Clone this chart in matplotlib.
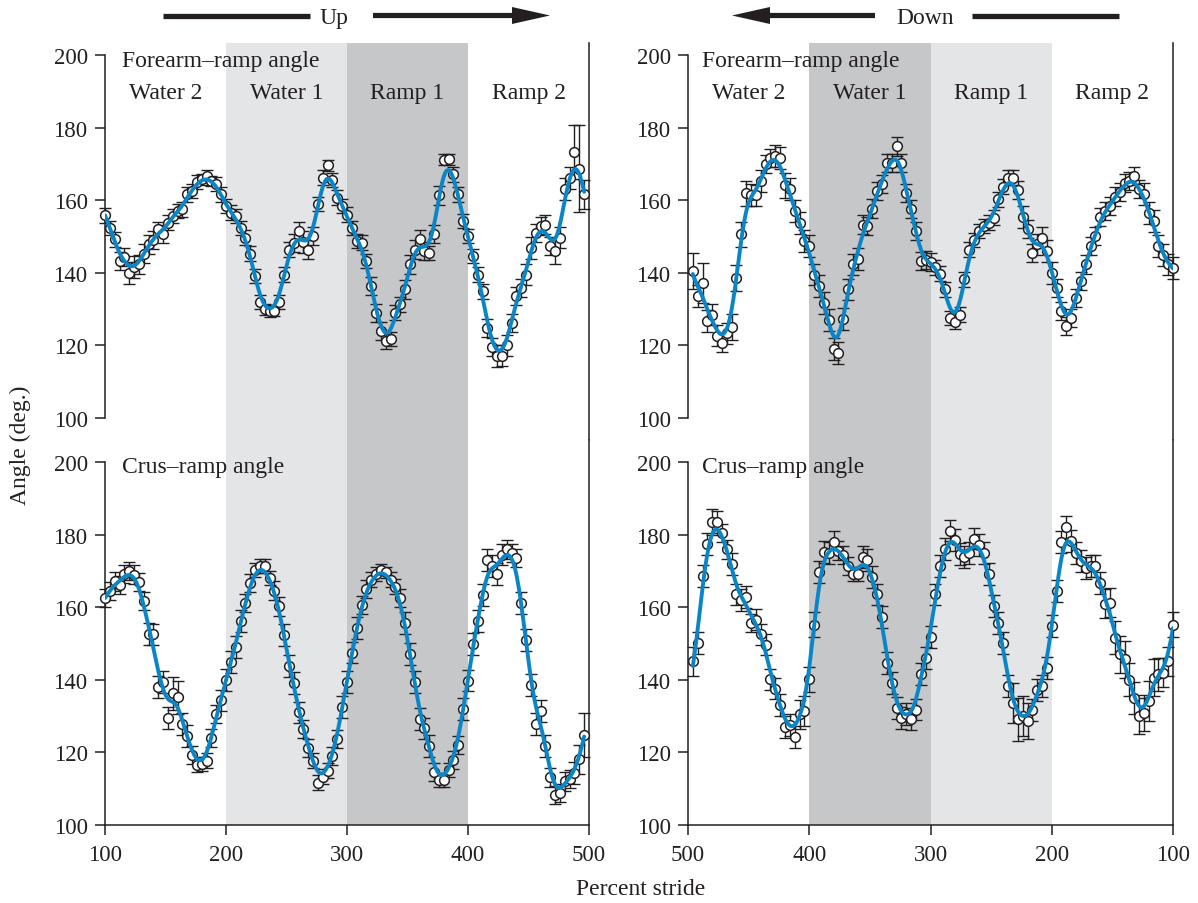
import numpy as np
import matplotlib
matplotlib.use("Agg")
import matplotlib.pyplot as plt
from matplotlib.patches import FancyArrow
from matplotlib.lines import Line2D

plt.rcParams['font.family'] = ['Liberation Serif', 'DejaVu Serif']

INK = '#231f20'
BLUE = '#0a86c8'
LIGHT = '#e4e5e7'
DARK = '#c6c7c9'

# ---------------- data ----------------
x_left = np.arange(100, 500, 4)          # Up: 100 -> 496
x_right = np.arange(496, 99, -4)         # Down: plotted left->right on reversed axis

forearm_up = [155.8, 152.4, 149.2, 143.2, 144.3, 140.0, 141.5, 142.3, 145.3, 147.8,
              149.0, 152.0, 150.6, 153.8, 155.6, 157.0, 157.5, 161.6, 162.5, 165.0,
              165.7, 166.7, 165.3, 164.4, 161.6, 158.4, 156.6, 155.6, 152.4, 149.7,
              145.3, 139.1, 131.9, 129.9, 129.4, 129.6, 131.9, 139.5, 146.4, 148.3,
              151.5, 148.5, 146.4, 150.1, 158.9, 166.2, 169.6, 165.6, 160.7, 158.4,
              156.0, 152.4, 148.7, 148.3, 143.2, 136.3, 129.0, 123.9, 121.1, 121.8,
              129.0, 131.3, 135.4, 142.3, 146.4, 149.4, 146.0, 145.5, 150.6, 161.3,
              171.1, 171.3, 167.1, 161.6, 154.3, 150.1, 144.6, 139.5, 134.9, 124.8,
              119.6, 117.0, 117.2, 120.0, 126.2, 133.6, 135.9, 139.5, 146.9, 151.0,
              152.9, 153.3, 147.4, 146.0, 149.7, 163.0, 166.2, 173.3, 168.7, 161.6]
forearm_up_err = [2, 2, 2, 2.5, 2.5, 3, 3, 2.5, 2.5, 2.5,
                  2.5, 2, 2.5, 2, 2, 2, 2, 2, 2, 2,
                  1.5, 1.5, 1.5, 2, 2, 2, 2, 2, 2, 2,
                  2, 2, 2, 1.5, 1.5, 1.5, 2, 2, 2, 2.5,
                  2.5, 3, 2.5, 2.5, 2, 2, 1.5, 2, 2, 2,
                  2, 2, 2, 2, 2, 2.5, 2.5, 2.5, 2, 2,
                  2, 2, 2.5, 2.5, 2.5, 2.5, 2.5, 2, 2.5, 2.5,
                  1.5, 1.5, 2, 2, 2, 2, 2, 2, 2, 2.5,
                  2.5, 3, 3, 3, 2.5, 2.5, 2.5, 3, 3, 2.5,
                  2.5, 2.5, 2.5, 3.5, 3, 3, 3, 7.5, 12, 4]

crus_up = [162.5, 164.4, 167.1, 166.2, 169.2, 169.9, 169.0, 166.9, 161.6, 152.7,
           152.5, 138.0, 139.3, 129.4, 136.3, 135.2, 127.9, 124.6, 119.3, 116.6,
           116.8, 117.7, 123.9, 130.6, 134.3, 140.0, 144.9, 149.0, 156.1, 161.1,
           166.7, 170.2, 171.3, 171.3, 168.0, 164.6, 160.2, 152.4, 143.7, 139.1,
           131.0, 126.4, 121.2, 117.7, 111.7, 113.3, 115.0, 118.9, 123.6, 132.5,
           139.5, 147.5, 154.3, 160.7, 165.0, 167.6, 169.2, 170.3, 169.6, 167.6,
           165.7, 162.5, 155.6, 147.2, 139.5, 129.1, 126.6, 121.8, 114.7, 112.4,
           112.4, 115.2, 117.9, 122.1, 131.9, 139.8, 149.9, 156.1, 163.4, 172.9,
           171.4, 169.2, 174.5, 175.9, 174.9, 173.6, 161.1, 151.0, 138.6, 127.9,
           131.5, 121.8, 113.1, 108.3, 108.7, 112.0, 112.6, 114.3, 118.1, 124.8]
crus_up_err = [2.5, 2.5, 2.5, 2.5, 2.5, 2.5, 2.5, 2.5, 2.5, 3,
               3, 3, 3, 3, 4.5, 4.5, 3, 3, 2.5, 2,
               2, 2, 2.5, 2.5, 3, 3, 3, 3, 3, 2.5,
               2.5, 2, 2, 2, 2, 2.5, 2.5, 3, 3, 3,
               3, 2.5, 2.5, 2, 2, 2, 2, 2.5, 2.5, 3,
               3, 3, 3, 2.5, 2.5, 2, 2, 1.5, 1.5, 2,
               2, 2.5, 3, 3, 3, 3, 3, 3, 2.5, 2,
               2, 2, 2.5, 2.5, 3, 3, 3, 3, 3, 3,
               3, 3, 3, 2.5, 2.5, 2.5, 3, 3, 3, 3,
               3, 3, 2.5, 2.5, 2.5, 2.5, 2.5, 3, 4, 6]

forearm_down = [140.5, 133.6, 137.2, 126.7, 128.5, 122.7, 120.7, 123.3, 125.1, 138.6,
                150.6, 161.9, 161.5, 161.3, 165.3, 169.9, 171.7, 172.2, 171.7, 164.1,
                163.0, 157.0, 153.8, 148.7, 147.4, 139.5, 136.3, 131.7, 126.9, 119.0,
                117.9, 127.3, 135.4, 142.3, 143.9, 153.3, 152.9, 157.7, 162.5, 164.4,
                170.2, 170.3, 174.8, 170.3, 161.9, 157.5, 151.5, 143.2, 143.5, 143.0,
                141.5, 139.8, 135.4, 127.6, 126.4, 128.5, 138.2, 146.4, 149.0, 151.5,
                152.9, 153.8, 155.2, 160.2, 163.7, 166.2, 166.2, 162.8, 155.4, 152.0,
                145.5, 147.8, 149.7, 146.0, 140.0, 135.9, 129.4, 125.3, 127.6, 133.1,
                137.7, 142.3, 147.4, 150.1, 155.4, 157.0, 158.4, 161.0, 162.3, 164.8,
                165.3, 166.7, 163.0, 161.6, 156.4, 154.3, 147.4, 144.8, 142.3, 141.4]
forearm_down_err = [5, 3, 5.5, 3, 3, 3, 2.5, 3, 3.5, 3.5,
                    3.5, 3.5, 3, 3, 3, 2.5, 2.5, 3, 3, 3.5,
                    3, 3, 3, 3, 3, 3, 3, 3, 3, 3,
                    3, 3, 3, 3, 3, 2.5, 2.5, 2.5, 2.5, 2.5,
                    2.5, 2.5, 2.5, 2.5, 2.5, 2.5, 2.5, 2.5, 2.5, 2.5,
                    2, 2, 2, 2, 2, 2, 2, 2, 2, 2,
                    2, 2, 2, 2, 2, 2, 2, 2.5, 3, 2.5,
                    2.5, 3, 3, 3, 3, 2.5, 2.5, 2.5, 2.5, 2.5,
                    2.5, 2.5, 2.5, 2.5, 2.5, 2.5, 2.5, 2.5, 2.5, 2.5,
                    2.5, 2.5, 2.5, 3, 3, 3, 3, 3, 3, 3]

crus_down = [145.1, 150.2, 168.5, 177.4, 183.5, 183.5, 180.5, 175.9, 171.9, 163.5,
             162.0, 162.8, 155.7, 156.6, 152.5, 149.7, 140.1, 137.6, 133.0, 127.0,
             127.5, 124.2, 130.5, 131.4, 140.1, 155.2, 169.7, 175.2, 174.9, 178.0,
             175.6, 174.3, 171.3, 169.2, 169.2, 173.8, 173.1, 168.3, 163.5, 157.2,
             144.7, 139.2, 132.3, 129.5, 130.6, 129.1, 131.8, 141.5, 146.1, 151.7,
             163.5, 171.3, 176.1, 181.1, 178.6, 174.7, 173.8, 175.0, 178.9, 177.2,
             175.0, 169.2, 160.3, 155.7, 150.2, 138.3, 133.7, 129.1, 130.0, 128.6,
             131.6, 137.1, 138.3, 143.3, 154.8, 164.4, 178.0, 182.0, 178.2, 175.0,
             172.8, 170.8, 171.3, 171.3, 166.7, 160.9, 161.2, 151.6, 147.0, 145.6,
             140.0, 135.0, 130.0, 130.9, 134.1, 140.6, 141.5, 141.9, 145.1, 155.2]
crus_down_err = [4, 3, 3, 3, 3.5, 3, 2.5, 2.5, 3, 3,
                 3, 3, 2.5, 3, 3, 3, 3, 3, 3, 3,
                 3, 3, 4, 4, 3.5, 3.5, 3, 3, 3, 3,
                 2.5, 2.5, 2.5, 2, 2, 3, 3, 3, 3, 3,
                 3, 3, 3, 3, 3, 3, 3, 3, 3, 3,
                 3, 3, 3, 3, 3, 3, 3, 3, 3, 3,
                 3, 3, 3, 3, 3, 3, 5.5, 6, 5.5, 5,
                 3, 3, 3, 3, 3, 3, 3, 3, 3, 3,
                 3, 3, 3, 3, 3, 4, 4, 4.5, 5, 5,
                 4.5, 4.5, 5, 5, 5.5, 5, 4.5, 4, 4, 3.5]

regions_up = [(200, 300, LIGHT), (300, 400, DARK)]
regions_down = [(400, 300, DARK), (300, 200, LIGHT)]
labels_up = [(150, 'Water 2'), (250, 'Water 1'), (350, 'Ramp 1'), (450, 'Ramp 2')]
labels_down = [(450, 'Water 2'), (350, 'Water 1'), (250, 'Ramp 1'), (150, 'Ramp 2')]
yticks = [100, 120, 140, 160, 180, 200]
xticks = [100, 200, 300, 400, 500]


def local_linear_fit(x, y, xf, s=4.6):
    """Gaussian-weighted local linear regression of the plotted means."""
    x = np.asarray(x, float)
    y = np.asarray(y, float)
    w = np.exp(-0.5 * ((xf[:, None] - x[None, :]) / s) ** 2)
    sw = w.sum(1)
    xm = (w * x).sum(1) / sw
    ym = (w * y).sum(1) / sw
    dx = x[None, :] - xm[:, None]
    dy = y[None, :] - ym[:, None]
    b = (w * dx * dy).sum(1) / (w * dx * dx).sum(1)
    return ym + b * (xf - xm)


fig = plt.figure(figsize=(11.98, 9.04), dpi=100)
W, H = 1198.0, 904.0


def make_ax(x0, x1, y0, y1):
    return fig.add_axes([x0 / W, 1 - y1 / H, (x1 - x0) / W, (y1 - y0) / H])


def draw(ax, x, y, e, xlim, ylim, regions, top):
    ax.set_xlim(*xlim)
    ax.set_ylim(*ylim)
    for a, b, c in regions:
        ax.axvspan(a, b, color=c, lw=0, zorder=0)
    cont = ax.errorbar(x, y, yerr=e, fmt='none', ecolor=INK, elinewidth=1.0,
                       capsize=4.2, capthick=1.0, zorder=2)
    for art in list(cont.lines[1]) + list(cont.lines[2]):
        art.set_clip_on(False)
    ax.plot(x, y, 'o', ms=7.0, mfc='white', mec=INK, mew=1.1, zorder=3, clip_on=False)
    xf = np.linspace(min(x), max(x), 500)
    ax.plot(xf, local_linear_fit(x, y, xf), color=BLUE, lw=2.8, zorder=4,
            solid_capstyle='round')
    ax.spines['top'].set_visible(False)
    ax.spines['left'].set_bounds(100, 200)
    for sp in ax.spines.values():
        sp.set_color(INK)
        sp.set_linewidth(1.1)
    ax.set_yticks(yticks)
    ax.tick_params(axis='y', direction='out', length=7, width=1.1, labelsize=16.5,
                   color=INK, labelcolor=INK, pad=5.5, right=False)
    if top:
        ax.spines['bottom'].set_visible(False)
        ax.tick_params(axis='x', bottom=False, labelbottom=False)
    else:
        ax.set_xticks(xticks)
        ax.tick_params(axis='x', direction='out', length=7, width=1.1, labelsize=16.5,
                       color=INK, labelcolor=INK, pad=7)


top_ylim = (93.94, 203.3)
bot_ylim = (100.0, 206.06)

axTL = make_ax(105, 589, 44, 441)
axBL = make_ax(105, 589, 441, 826)
axTR = make_ax(688, 1173, 44, 441)
axBR = make_ax(688, 1173, 441, 826)

draw(axTL, x_left, forearm_up, forearm_up_err, (100, 500), top_ylim, regions_up, True)
draw(axBL, x_left, crus_up, crus_up_err, (100, 500), bot_ylim, regions_up, False)
draw(axTR, x_right, forearm_down, forearm_down_err, (500, 100), top_ylim, regions_down, True)
draw(axBR, x_right, crus_down, crus_down_err, (500, 100), bot_ylim, regions_down, False)

fs = 17
for ax, lbls, x0 in [(axTL, labels_up, 114), (axTR, labels_down, 488.5)]:
    ax.text(x0, 198.5, 'Forearm\u2013ramp angle', fontsize=fs, color=INK, ha='left', va='center')
    for xc, t in lbls:
        ax.text(xc, 189.8, t, fontsize=fs, color=INK, ha='center', va='center')
for ax, x0 in [(axBL, 114), (axBR, 488.5)]:
    ax.text(x0, 198.8, 'Crus\u2013ramp angle', fontsize=fs, color=INK, ha='left', va='center')

# header arrows (inches in figure)
tr = fig.dpi_scale_trans
ya = (H - 16.5) / 100
fig.add_artist(Line2D([1.63, 3.10], [ya, ya], transform=tr, lw=3.8, color=INK, solid_capstyle='butt'))
fig.add_artist(FancyArrow(3.73, ya, 5.50 - 3.73, 0, width=0.052, head_width=0.17, head_length=0.38,
                          length_includes_head=True, transform=tr, color=INK, lw=0))
fig.text(3.34, ya, 'Up', transform=tr, fontsize=fs, color=INK, ha='center', va='center_baseline')
fig.add_artist(FancyArrow(8.75, ya, 7.32 - 8.75, 0, width=0.052, head_width=0.17, head_length=0.38,
                          length_includes_head=True, transform=tr, color=INK, lw=0))
fig.add_artist(Line2D([9.72, 11.19], [ya, ya], transform=tr, lw=3.8, color=INK, solid_capstyle='butt'))
fig.text(9.25, ya, 'Down', transform=tr, fontsize=fs, color=INK, ha='center', va='center_baseline')

fig.text(0.20, (H - 445) / 100, 'Angle (deg.)', transform=tr, fontsize=fs, color=INK,
         rotation=90, ha='center', va='center')
fig.text(6.41, (H - 890) / 100, 'Percent stride', transform=tr, fontsize=fs, color=INK,
         ha='center', va='center')

fig.savefig('out.png', dpi=100)
